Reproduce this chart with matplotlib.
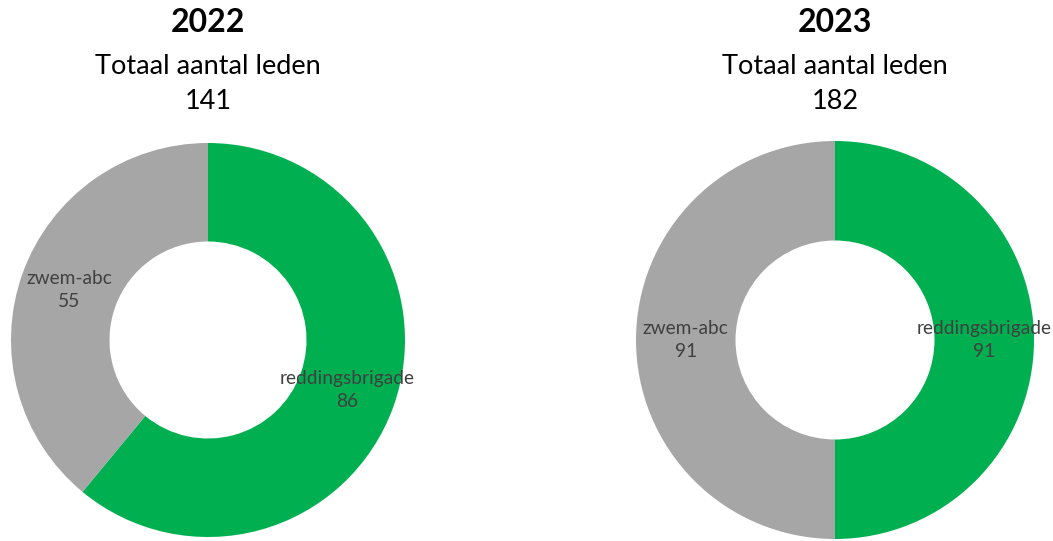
import matplotlib.pyplot as plt

plt.rcParams['font.family'] = ['Lato', 'DejaVu Sans']

years = ['2022', '2023']
categories = ['reddingsbrigade', 'zwem-abc']
members_2022 = [86, 55]
members_2023 = [91, 91]
colors = ['#00B050', '#A6A6A6']

W, H = 1053, 541
fig = plt.figure(figsize=(W / 100, H / 100), dpi=100)

# donut centre (px from top-left) and outer radius in px
layout = [(208, 340, 197), (835, 340, 199)]

for year, vals, (cx, cy, r) in zip(years, [members_2022, members_2023], layout):
    ax = fig.add_axes([(cx - r) / W, (H - cy - r) / H, 2 * r / W, 2 * r / H])
    labels = [f'{c}\n{v}' for c, v in zip(categories, vals)]
    ax.pie(vals, colors=colors, startangle=90, counterclock=False,
           labels=labels, labeldistance=0.75,
           wedgeprops=dict(width=0.5, linewidth=0),
           textprops=dict(ha='center', va='center', color='#404040',
                          fontsize=13.8, linespacing=1.4))
    ax.set_xlim(-1, 1)
    ax.set_ylim(-1, 1)
    ax.set_aspect('auto')
    ax.axis('off')

    x = cx / W
    fig.text(x, 1 - 22 / H, year, ha='center', va='center',
             fontsize=23, fontweight='bold', color='black')
    fig.text(x, 1 - 66 / H, 'Totaal aantal leden', ha='center', va='center',
             fontsize=19.5, color='black')
    fig.text(x, 1 - 102 / H, str(sum(vals)), ha='center', va='center',
             fontsize=19.5, color='black')

fig.savefig('out.png', dpi=100)
